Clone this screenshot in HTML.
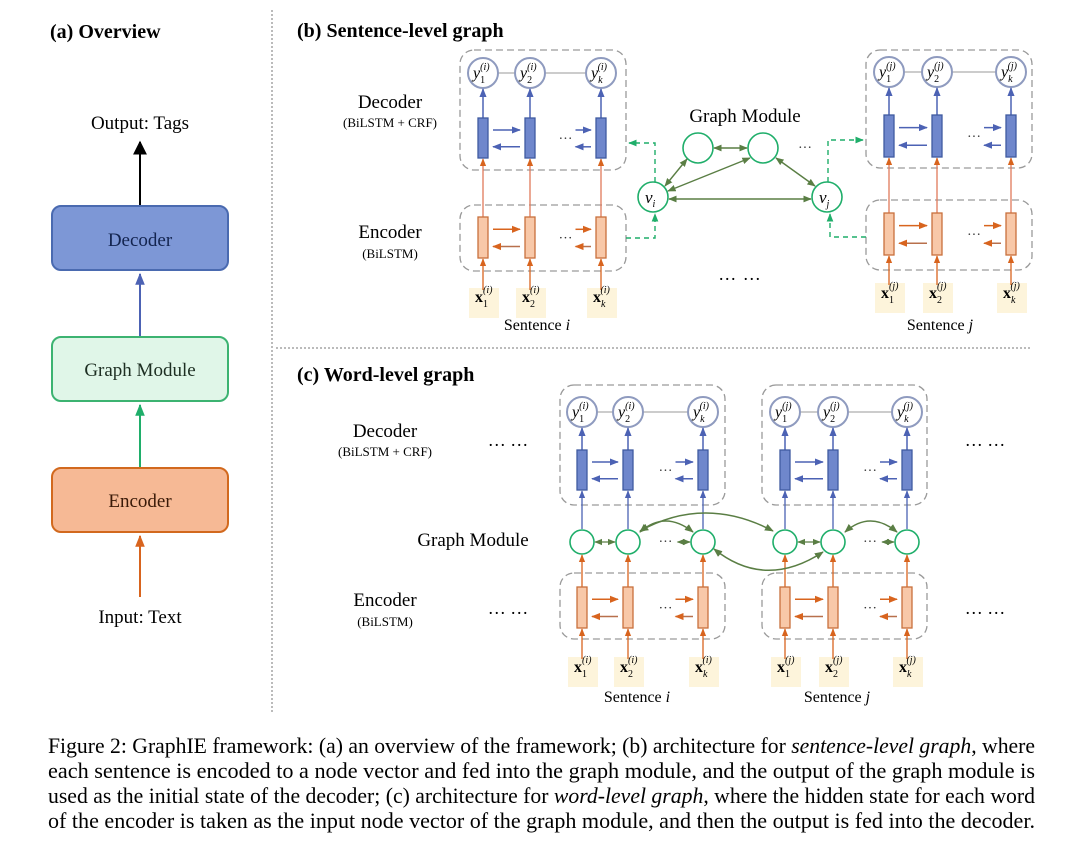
<!DOCTYPE html>
<html><head><meta charset="utf-8"><style>
html,body{margin:0;padding:0;background:#fff}
svg{display:block}
text{font-family:"Liberation Serif",serif}
</style></head><body>
<svg id="s" width="1080" height="856" viewBox="0 0 1080 856" xmlns="http://www.w3.org/2000/svg">
<defs>
<marker id="mk" viewBox="0 0 10 10" refX="9" refY="5" markerWidth="7" markerHeight="7" orient="auto-start-reverse"><path d="M0,0 L10,5 L0,10 z" fill="#000"/></marker>
<marker id="mb" viewBox="0 0 10 10" refX="9" refY="5" markerWidth="6" markerHeight="6" orient="auto-start-reverse"><path d="M0,1 L10,5 L0,9 z" fill="#4c62b4"/></marker>
<marker id="mo" viewBox="0 0 10 10" refX="9" refY="5" markerWidth="6" markerHeight="6" orient="auto-start-reverse"><path d="M0,1 L10,5 L0,9 z" fill="#d8641e"/></marker>
<marker id="mg" viewBox="0 0 10 10" refX="9" refY="5" markerWidth="6" markerHeight="6" orient="auto-start-reverse"><path d="M0,1 L10,5 L0,9 z" fill="#1fae6a"/></marker>
<marker id="mv" viewBox="0 0 10 10" refX="9" refY="5" markerWidth="6" markerHeight="6" orient="auto-start-reverse"><path d="M0,1 L10,5 L0,9 z" fill="#5a7e44"/></marker>
</defs>

<line x1="272" y1="10" x2="272" y2="712" stroke="#777" stroke-width="1" stroke-dasharray="2,2"/>
<line x1="276" y1="348" x2="1032" y2="348" stroke="#777" stroke-width="1" stroke-dasharray="2,2"/>

<text x="50" y="38" font-size="20" font-weight="bold">(a) Overview</text>
<text x="140" y="129" font-size="19" text-anchor="middle">Output: Tags</text>
<line x1="140" y1="205" x2="140" y2="142" stroke="#000" stroke-width="2" marker-end="url(#mk)"/>
<rect x="52" y="206" width="176" height="64" rx="9" fill="#7d97d6" stroke="#4a6ab0" stroke-width="2"/>
<text x="140" y="246" font-size="19" text-anchor="middle" fill="#13244f">Decoder</text>
<line x1="140" y1="336" x2="140" y2="274" stroke="#4c62b4" stroke-width="2" marker-end="url(#mb)"/>
<rect x="52" y="337" width="176" height="64" rx="9" fill="#e0f6e8" stroke="#3cb371" stroke-width="2"/>
<text x="140" y="376" font-size="19" text-anchor="middle" fill="#1d2e22">Graph Module</text>
<line x1="140" y1="467" x2="140" y2="405" stroke="#1fae6a" stroke-width="2" marker-end="url(#mg)"/>
<rect x="52" y="468" width="176" height="64" rx="9" fill="#f6b995" stroke="#d2691e" stroke-width="2"/>
<text x="140" y="507" font-size="19" text-anchor="middle" fill="#3a1a08">Encoder</text>
<line x1="140" y1="597" x2="140" y2="536" stroke="#d8641e" stroke-width="2" marker-end="url(#mo)"/>
<text x="140" y="623" font-size="19" text-anchor="middle">Input: Text</text>

<text x="297" y="37" font-size="20" font-weight="bold">(b) Sentence-level graph</text>
<text x="390" y="108" font-size="19" text-anchor="middle">Decoder</text>
<text x="390" y="127" font-size="13" text-anchor="middle">(BiLSTM + CRF)</text>
<text x="390" y="238" font-size="19" text-anchor="middle">Encoder</text>
<text x="390" y="258" font-size="13" text-anchor="middle">(BiLSTM)</text>
<text x="745" y="122" font-size="19" text-anchor="middle">Graph Module</text>
<text x="740" y="280" font-size="18" text-anchor="middle" letter-spacing="1">… …</text>
<text x="537" y="330" font-size="16" text-anchor="middle">Sentence <tspan font-style="italic">i</tspan></text>
<text x="940" y="330" font-size="16" text-anchor="middle">Sentence <tspan font-style="italic">j</tspan></text>

<text x="297" y="381" font-size="20" font-weight="bold">(c) Word-level graph</text>
<text x="385" y="437" font-size="19" text-anchor="middle">Decoder</text>
<text x="385" y="456" font-size="13" text-anchor="middle">(BiLSTM + CRF)</text>
<text x="473" y="546" font-size="19" text-anchor="middle">Graph Module</text>
<text x="385" y="606" font-size="19" text-anchor="middle">Encoder</text>
<text x="385" y="626" font-size="13" text-anchor="middle">(BiLSTM)</text>
<text x="508" y="446" font-size="18" text-anchor="middle">… …</text>
<text x="508" y="614" font-size="18" text-anchor="middle">… …</text>
<text x="985" y="446" font-size="18" text-anchor="middle">… …</text>
<text x="985" y="614" font-size="18" text-anchor="middle">… …</text>
<text x="637" y="702" font-size="16" text-anchor="middle">Sentence <tspan font-style="italic">i</tspan></text>
<text x="837" y="702" font-size="16" text-anchor="middle">Sentence <tspan font-style="italic">j</tspan></text>

<g id="shapes"></g>
<g id="labels" font-size="16">
<text x="473" y="78" font-style="italic">y<tspan font-size="10" dy="5" font-style="normal">1</tspan><tspan font-size="10" dx="-5" dy="-13">(i)</tspan></text>
<text x="520" y="78" font-style="italic">y<tspan font-size="10" dy="5" font-style="normal">2</tspan><tspan font-size="10" dx="-5" dy="-13">(i)</tspan></text>
<text x="591" y="78" font-style="italic">y<tspan font-size="10" dy="5">k</tspan><tspan font-size="10" dx="-5" dy="-13">(i)</tspan></text>
<text x="879" y="77" font-style="italic">y<tspan font-size="10" dy="5" font-style="normal">1</tspan><tspan font-size="10" dx="-5" dy="-13">(j)</tspan></text>
<text x="927" y="77" font-style="italic">y<tspan font-size="10" dy="5" font-style="normal">2</tspan><tspan font-size="10" dx="-5" dy="-13">(j)</tspan></text>
<text x="1001" y="77" font-style="italic">y<tspan font-size="10" dy="5">k</tspan><tspan font-size="10" dx="-5" dy="-13">(j)</tspan></text>
<text x="475" y="302" font-weight="bold">x<tspan font-size="10" font-weight="normal" dy="5">1</tspan><tspan font-size="10" font-weight="normal" font-style="italic" dx="-5" dy="-14">(i)</tspan></text>
<text x="522" y="302" font-weight="bold">x<tspan font-size="10" font-weight="normal" dy="5">2</tspan><tspan font-size="10" font-weight="normal" font-style="italic" dx="-5" dy="-14">(i)</tspan></text>
<text x="593" y="302" font-weight="bold">x<tspan font-size="10" font-weight="normal" font-style="italic" dy="5">k</tspan><tspan font-size="10" font-weight="normal" font-style="italic" dx="-5" dy="-14">(i)</tspan></text>
<text x="881" y="298" font-weight="bold">x<tspan font-size="10" font-weight="normal" dy="5">1</tspan><tspan font-size="10" font-weight="normal" font-style="italic" dx="-5" dy="-14">(j)</tspan></text>
<text x="929" y="298" font-weight="bold">x<tspan font-size="10" font-weight="normal" dy="5">2</tspan><tspan font-size="10" font-weight="normal" font-style="italic" dx="-5" dy="-14">(j)</tspan></text>
<text x="1003" y="298" font-weight="bold">x<tspan font-size="10" font-weight="normal" font-style="italic" dy="5">k</tspan><tspan font-size="10" font-weight="normal" font-style="italic" dx="-5" dy="-14">(j)</tspan></text>
<text x="645" y="203" font-style="italic" font-size="17">v<tspan font-size="10" dy="4">i</tspan></text>
<text x="819" y="203" font-style="italic" font-size="17">v<tspan font-size="10" dy="4">j</tspan></text>
<text x="572" y="417" font-style="italic">y<tspan font-size="10" dy="5" font-style="normal">1</tspan><tspan font-size="10" dx="-5" dy="-13">(i)</tspan></text>
<text x="618" y="417" font-style="italic">y<tspan font-size="10" dy="5" font-style="normal">2</tspan><tspan font-size="10" dx="-5" dy="-13">(i)</tspan></text>
<text x="693" y="417" font-style="italic">y<tspan font-size="10" dy="5">k</tspan><tspan font-size="10" dx="-5" dy="-13">(i)</tspan></text>
<text x="775" y="417" font-style="italic">y<tspan font-size="10" dy="5" font-style="normal">1</tspan><tspan font-size="10" dx="-5" dy="-13">(j)</tspan></text>
<text x="823" y="417" font-style="italic">y<tspan font-size="10" dy="5" font-style="normal">2</tspan><tspan font-size="10" dx="-5" dy="-13">(j)</tspan></text>
<text x="897" y="417" font-style="italic">y<tspan font-size="10" dy="5">k</tspan><tspan font-size="10" dx="-5" dy="-13">(j)</tspan></text>
<text x="574" y="672" font-weight="bold">x<tspan font-size="10" font-weight="normal" dy="5">1</tspan><tspan font-size="10" font-weight="normal" font-style="italic" dx="-5" dy="-14">(i)</tspan></text>
<text x="620" y="672" font-weight="bold">x<tspan font-size="10" font-weight="normal" dy="5">2</tspan><tspan font-size="10" font-weight="normal" font-style="italic" dx="-5" dy="-14">(i)</tspan></text>
<text x="695" y="672" font-weight="bold">x<tspan font-size="10" font-weight="normal" font-style="italic" dy="5">k</tspan><tspan font-size="10" font-weight="normal" font-style="italic" dx="-5" dy="-14">(i)</tspan></text>
<text x="777" y="672" font-weight="bold">x<tspan font-size="10" font-weight="normal" dy="5">1</tspan><tspan font-size="10" font-weight="normal" font-style="italic" dx="-5" dy="-14">(j)</tspan></text>
<text x="825" y="672" font-weight="bold">x<tspan font-size="10" font-weight="normal" dy="5">2</tspan><tspan font-size="10" font-weight="normal" font-style="italic" dx="-5" dy="-14">(j)</tspan></text>
<text x="899" y="672" font-weight="bold">x<tspan font-size="10" font-weight="normal" font-style="italic" dy="5">k</tspan><tspan font-size="10" font-weight="normal" font-style="italic" dx="-5" dy="-14">(j)</tspan></text>
</g>

<g font-size="22">
<text x="48" y="753" textLength="987" lengthAdjust="spacingAndGlyphs">Figure 2:  GraphIE framework: (a) an overview of the framework; (b) architecture for <tspan font-style="italic">sentence-level graph</tspan>, where</text>
<text x="48" y="778" textLength="987" lengthAdjust="spacingAndGlyphs">each sentence is encoded to a node vector and fed into the graph module, and the output of the graph module is</text>
<text x="48" y="803" textLength="987" lengthAdjust="spacingAndGlyphs">used as the initial state of the decoder; (c) architecture for <tspan font-style="italic">word-level graph</tspan>, where the hidden state for each word</text>
<text x="48" y="828" textLength="987" lengthAdjust="spacingAndGlyphs">of the encoder is taken as the input node vector of the graph module, and then the output is fed into the decoder.</text>
</g>
</svg>
<script>
(function(){
var NS="http://www.w3.org/2000/svg",g=document.getElementById("shapes");
function el(t,a){var e=document.createElementNS(NS,t);for(var k in a)e.setAttribute(k,a[k]);g.appendChild(e);return e;}
function box(x,y,w,h){el("rect",{x:x,y:y,width:w,height:h,rx:14,fill:"none",stroke:"#9a9a9a","stroke-width":1.3,"stroke-dasharray":"7,4"});}
function ln(x1,y1,x2,y2,c,m,w){var a={x1:x1,y1:y1,x2:x2,y2:y2,stroke:c,"stroke-width":w||1.6};if(m)a["marker-end"]="url(#"+m+")";return el("line",a);}
function dots(x,y){el("text",{x:x,y:y,"font-size":14,"text-anchor":"middle",fill:"#333"}).textContent="\u00b7\u00b7\u00b7";}
function block(cols,cy,dT,dB,eT,eB,xl,mid){
  cols.forEach(function(c){el("rect",{x:c-14,y:xl-10,width:30,height:30,fill:"#fdf1d2",opacity:0.8});});
  ln(cols[0]+15,cy,cols[1]-15,cy,"#999",null,1);
  ln(cols[1]+15,cy,cols[2]-15,cy,"#999",null,1);
  cols.forEach(function(c){
    el("circle",{cx:c,cy:cy,r:15,fill:"#fff",stroke:"#8f9bbf","stroke-width":2});
    ln(c,dT,c,cy+16,"#4c62b4","mb",1.5);
    if(mid){
      ln(c,mid-13,c,dB+1,"#4c62b4","mb",1.3);
      el("circle",{cx:c,cy:mid,r:12,fill:"#fff",stroke:"#1fae6a","stroke-width":1.6});
      ln(c,eT,c,mid+13,"#d8641e","mo",1.3);
    } else {
      ln(c,eT,c,dB+1,"#e07a5a","mo",1.3);
    }
    ln(c,xl-8,c,eB+1,"#d8641e","mo",1.3);
    el("rect",{x:c-5,y:dT,width:10,height:dB-dT,fill:"#6f87cc",stroke:"#3f5aa0","stroke-width":1.3});
    el("rect",{x:c-5,y:eT,width:10,height:eB-eT,fill:"#f8c8a8",stroke:"#c8703c","stroke-width":1.3});
  });
  var m=(cols[1]+cols[2])/2, dy=dB-dT, ey=eB-eT;
  var segs=[[cols[0]+10,cols[1]-10],[m+10,cols[2]-10]];
  dots(m,dT+dy/2+5); dots(m,eT+ey/2+5);
  segs.forEach(function(s){
    var a=s[0],b=s[1];
    ln(a,dT+dy*0.3,b,dT+dy*0.3,"#4c62b4","mb",1.5);
    ln(b,dT+dy*0.72,a,dT+dy*0.72,"#4c62b4","mb",1.5);
    ln(a,eT+ey*0.3,b,eT+ey*0.3,"#d8641e","mo",1.5);
    ln(b,eT+ey*0.72,a,eT+ey*0.72,"#b8704c","mo",1.5);
  });
  if(mid){
    dots(m,mid+4);
    el("line",{x1:cols[0]+13,y1:mid,x2:cols[1]-13,y2:mid,stroke:"#5a7e44","stroke-width":1.3,"marker-end":"url(#mv)","marker-start":"url(#mv)"});
    el("line",{x1:m+12,y1:mid,x2:cols[2]-13,y2:mid,stroke:"#5a7e44","stroke-width":1.3,"marker-end":"url(#mv)","marker-start":"url(#mv)"});
  }
}
box(460,50,166,120); box(460,205,166,66);
box(866,50,166,118); box(866,200,166,70);
block([483,530,601],73,118,158,217,258,298,null);
block([889,937,1011],72,115,157,213,255,293,null);
var G="#1fae6a",V="#5a7e44";
[[698,148],[763,148],[653,197],[827,197]].forEach(function(p){el("circle",{cx:p[0],cy:p[1],r:15,fill:"#fff",stroke:G,"stroke-width":1.6});});
dots(805,152);
function dl(x1,y1,x2,y2){el("line",{x1:x1,y1:y1,x2:x2,y2:y2,stroke:V,"stroke-width":1.4,"marker-end":"url(#mv)","marker-start":"url(#mv)"});}
dl(714,148,747,148); dl(687,159,665,186); dl(750,158,668,191); dl(776,158,815,186); dl(669,199,811,199);
function dash(d,m){el("path",{d:d,fill:"none",stroke:G,"stroke-width":1.4,"stroke-dasharray":"5,4","marker-end":"url(#"+m+")"});}
dash("M655,182 L655,143 L629,143","mg");
dash("M626,238 L655,238 L655,214","mg");
dash("M828,182 L828,140 L863,140","mg");
dash("M866,237 L830,237 L830,214","mg");
box(560,385,165,120); box(560,573,165,66);
box(762,385,165,120); box(762,573,165,66);
block([582,628,703],412,450,490,587,628,667,542);
block([785,833,907],412,450,490,587,628,667,542);
function arc(d){el("path",{d:d,fill:"none",stroke:V,"stroke-width":1.5,"marker-end":"url(#mv)","marker-start":"url(#mv)"});}
arc("M640,531 Q705,495 773,531");
arc("M714,549 Q765,590 823,552");
arc("M640,532 Q665,510 693,532");
arc("M845,532 Q870,510 897,532");
})();
</script>
</body></html>
